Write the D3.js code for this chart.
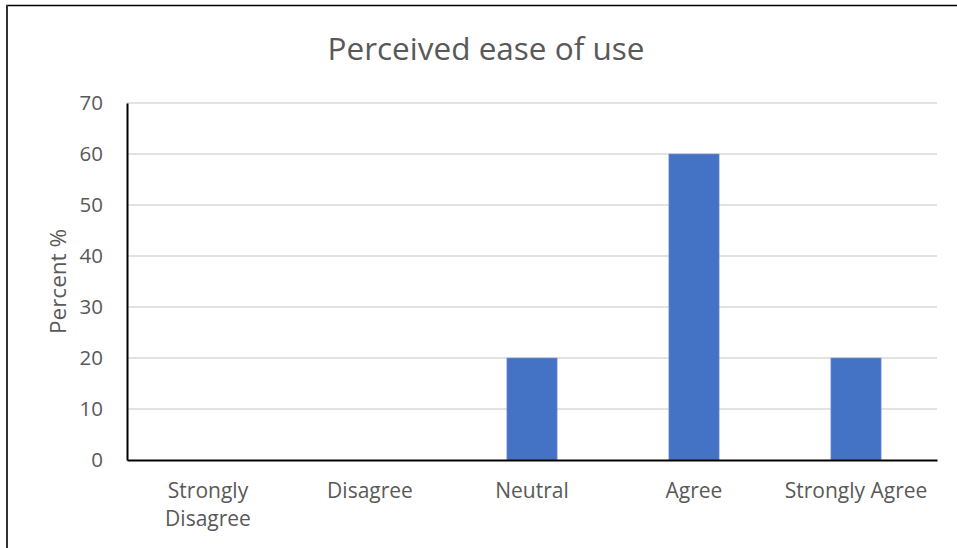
<!DOCTYPE html>
<html>
<head>
<meta charset="utf-8">
<script src="https://cdn.jsdelivr.net/npm/d3@7"></script>
<style>
  html, body { margin: 0; padding: 0; background: #fff; }
  svg { display: block; font-family: "Open Sans", sans-serif; }
</style>
</head>
<body>
<svg id="chart" width="957" height="548"></svg>
<script>
// Survey responses: share of participants per answer
const categories = ["Strongly Disagree", "Disagree", "Neutral", "Agree", "Strongly Agree"];
const percents = [0, 0, 20, 60, 20];
const yTicks = [0, 10, 20, 30, 40, 50, 60, 70];
const chartTitle = "Perceived ease of use";
const yTitle = "Percent %";

const svg = d3.select("#chart");
const W = 957, H = 548;
const margin = { top: 103, left: 127 };
const innerW = 937 - margin.left;
const innerH = 460 - margin.top;
const textColor = "#595959";
const font = "'Open Sans', sans-serif";

// Chart frame (top and left edges)
svg.append("line").attr("x1", 6).attr("x2", W).attr("y1", 5.5).attr("y2", 5.5)
  .attr("stroke", "#000").attr("stroke-width", 1.5);
svg.append("line").attr("x1", 7).attr("x2", 7).attr("y1", 5).attr("y2", H)
  .attr("stroke", "#333").attr("stroke-width", 2);

const g = svg.append("g").attr("transform", `translate(${margin.left},${margin.top})`);

const x = d3.scaleBand().domain(categories).range([0, innerW])
  .paddingInner(0.69).paddingOuter(0.345);
const y = d3.scaleLinear().domain([0, 70]).range([innerH, 0]);

// Horizontal gridlines
g.append("g").selectAll("line").data(yTicks.filter(d => d > 0)).join("line")
  .attr("x1", 0).attr("x2", innerW)
  .attr("y1", d => y(d)).attr("y2", d => y(d))
  .attr("stroke", "#d9d9d9").attr("stroke-width", 1.3);

// Bars
g.append("g").selectAll("rect").data(categories.map((c, i) => ({ c, v: percents[i] })))
  .join("rect")
  .attr("x", d => x(d.c))
  .attr("y", d => y(d.v))
  .attr("width", x.bandwidth())
  .attr("height", d => innerH - y(d.v))
  .attr("fill", "#4472c4")
  .attr("stroke", "#7b9ad6").attr("stroke-width", 0.6);

// Y axis
const yAxis = g.append("g").call(d3.axisLeft(y).tickValues(yTicks).tickSize(0).tickPadding(24));
yAxis.select(".domain").attr("stroke", "#000").attr("stroke-width", 2);
yAxis.selectAll("text").attr("fill", textColor).attr("font-size", 20.5).attr("font-family", font);

// X axis
const xAxis = g.append("g").attr("transform", `translate(0,${innerH})`)
  .call(d3.axisBottom(x).tickSize(0).tickFormat(""));
xAxis.select(".domain").attr("stroke", "#000").attr("stroke-width", 2);

// Category labels, wrapped where the band is too narrow
const wrapped = { "Strongly Disagree": ["Strongly", "Disagree"] };
categories.forEach(c => {
  const lines = wrapped[c] || [c];
  const t = g.append("text")
    .attr("x", x(c) + x.bandwidth() / 2)
    .attr("y", innerH + 38)
    .attr("text-anchor", "middle")
    .attr("fill", textColor)
    .attr("font-size", 21);
  lines.forEach((l, i) => t.append("tspan")
    .attr("x", x(c) + x.bandwidth() / 2)
    .attr("dy", i === 0 ? 0 : 28).text(l));
});

// Axis title
svg.append("text")
  .attr("transform", `translate(66,${margin.top + innerH / 2}) rotate(-90)`)
  .attr("text-anchor", "middle")
  .attr("fill", textColor).attr("font-size", 22.5)
  .text(yTitle);

// Chart title
svg.append("text")
  .attr("x", 486).attr("y", 60)
  .attr("text-anchor", "middle")
  .attr("fill", textColor).attr("font-size", 31.5)
  .text(chartTitle);
</script>
</body>
</html>
